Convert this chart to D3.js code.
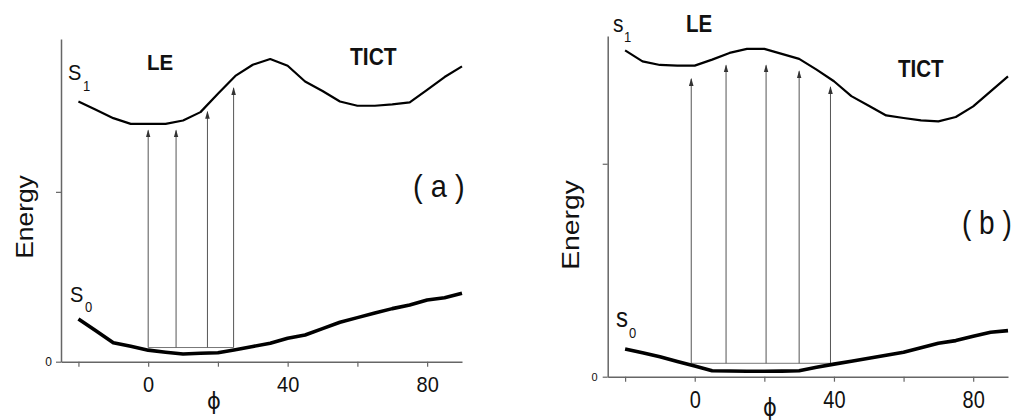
<!DOCTYPE html>
<html>
<head>
<meta charset="utf-8">
<script src="https://cdn.jsdelivr.net/npm/d3@7/dist/d3.min.js"></script>
<style>
  html, body { margin: 0; padding: 0; background: #fff; }
  svg { display: block; font-family: "Liberation Sans", Arial, sans-serif; }
</style>
</head>
<body>
<svg id="chart" width="1016" height="420"></svg>
<script>
// ---- data ----
const phi = [-20, -15, -10, -5, 0, 5, 10, 15, 20, 25, 30, 35, 40, 45, 50, 55, 60, 65, 70, 75, 80, 85, 90];

// panel (a)
const s1A = [3.064, 2.967, 2.868, 2.801, 2.801, 2.801, 2.840, 2.939, 3.154, 3.365, 3.497, 3.564, 3.485, 3.300, 3.188, 3.064, 3.014, 3.014, 3.030, 3.053, 3.201, 3.352, 3.477];
const s0A = [0.503, 0.364, 0.224, 0.181, 0.136, 0.112, 0.091, 0.099, 0.106, 0.141, 0.179, 0.217, 0.276, 0.315, 0.389, 0.464, 0.519, 0.574, 0.625, 0.668, 0.727, 0.754, 0.806];
const arrowPhiA = [0, 8, 17, 24.5];
const arrowTopA = [2.723, 2.723, 2.943, 3.222];
const arrowBaseA = 0.167;

// panel (b)
const s1B = [3.065, 2.962, 2.928, 2.922, 2.922, 2.978, 3.041, 3.079, 3.079, 3.032, 2.985, 2.884, 2.775, 2.635, 2.545, 2.454, 2.430, 2.407, 2.398, 2.439, 2.539, 2.680, 2.821];
const s0B = [0.260, 0.225, 0.188, 0.143, 0.101, 0.056, 0.054, 0.051, 0.051, 0.052, 0.056, 0.088, 0.118, 0.145, 0.174, 0.201, 0.229, 0.271, 0.314, 0.339, 0.380, 0.417, 0.433];
const arrowPhiB = [-1, 9, 20.5, 30, 39];
const arrowTopB = [2.797, 2.924, 2.924, 2.868, 2.721];
const arrowBaseB = 0.126;

// axes
const xDomain = [-25, 90];
const xTickValues = [-20, 0, 20, 40, 60, 80];
const xTickLabels = ["", "0", "", "40", "", "80"];
const yTickValues = [0, 2];
const yTickLabels = ["0", ""];
const yTopA = 3.8;
const yTopB = 3.2;

// ---- drawing ----
const svg = d3.select("#chart");

const defs = svg.append("defs");
defs.append("marker")
  .attr("id", "head")
  .attr("viewBox", "0 -3 8 6")
  .attr("refX", 7).attr("refY", 0)
  .attr("markerWidth", 8).attr("markerHeight", 6)
  .attr("markerUnits", "userSpaceOnUse")
  .attr("orient", "auto")
  .append("path")
  .attr("d", "M0,-2.3L8,0L0,2.3Z")
  .attr("fill", "#333");

function panel(cfg) {
  const k = cfg.stretch;
  const g = svg.append("g");
  const x = d3.scaleLinear().domain(xDomain).range(cfg.xRange);
  const y = d3.scaleLinear().domain([0, cfg.yTop]).range(cfg.yRange);

  const xAxis = d3.axisBottom(x)
    .tickValues(xTickValues)
    .tickFormat((d, i) => xTickLabels[i])
    .tickSize(5).tickSizeOuter(0).tickPadding(10);
  const gx = g.append("g")
    .attr("transform", `translate(0,${cfg.yRange[0]})`)
    .call(xAxis);
  gx.selectAll("text")
    .attr("font-size", 20).attr("fill", "#111")
    .attr("font-family", "'Liberation Sans', Arial, sans-serif")
    .attr("y", 0)
    .attr("transform", `translate(0,15) scale(1,${k})`);

  const yAxis = d3.axisLeft(y)
    .tickValues(yTickValues)
    .tickFormat((d, i) => yTickLabels[i])
    .tickSize(5).tickSizeOuter(0).tickPadding(cfg.yPad);
  const gy = g.append("g")
    .attr("transform", `translate(${cfg.xRange[0]},0)`)
    .call(yAxis);
  gy.selectAll("text").attr("font-size", cfg.yFont).attr("fill", "#111")
    .attr("font-family", "'Liberation Sans', Arial, sans-serif");

  g.selectAll(".domain").attr("stroke", "#666").attr("stroke-width", 1.5);
  g.selectAll(".tick line").attr("stroke", "#666").attr("stroke-width", 1.2);

  // horizontal base line of the excitation arrows
  const ax = cfg.arrowPhi;
  g.append("line")
    .attr("x1", x(d3.min(ax))).attr("x2", x(d3.max(ax)))
    .attr("y1", y(cfg.arrowBase)).attr("y2", y(cfg.arrowBase))
    .attr("stroke", "#777").attr("stroke-width", 1);

  // vertical arrows
  g.selectAll(".arrow")
    .data(ax.map((p, i) => ({ p, top: cfg.arrowTop[i] })))
    .join("line")
    .attr("class", "arrow")
    .attr("x1", d => x(d.p)).attr("x2", d => x(d.p))
    .attr("y1", y(cfg.arrowBase)).attr("y2", d => y(d.top))
    .attr("stroke", "#555").attr("stroke-width", 1)
    .attr("marker-end", "url(#head)");

  const line = d3.line().x((d, i) => x(phi[i])).y(d => y(d)).curve(d3.curveLinear);

  g.append("path").datum(cfg.s1)
    .attr("d", line).attr("fill", "none")
    .attr("stroke", "#000").attr("stroke-width", 2.2)
    .attr("stroke-linejoin", "round");
  g.append("path").datum(cfg.s0)
    .attr("d", line).attr("fill", "none")
    .attr("stroke", "#000").attr("stroke-width", 3.6)
    .attr("stroke-linejoin", "round");

  // phi axis title
  g.append("text")
    .attr("transform", `translate(${cfg.phiX},${cfg.phiY}) scale(1,${k})`)
    .attr("text-anchor", "middle")
    .attr("font-family", "'DejaVu Sans', sans-serif")
    .attr("font-size", 21).attr("fill", "#111")
    .text("ϕ");

  // Energy title
  g.append("text")
    .attr("transform", `translate(${cfg.energyX},${cfg.energyY}) scale(1,${k}) rotate(-90)`)
    .attr("text-anchor", "middle")
    .attr("font-size", 24).attr("fill", "#111")
    .text("Energy");

  // state labels and annotations
  const lab = (t, px, py, fs, weight) => g.append("text")
    .attr("transform", `translate(${px},${py}) scale(1,${k})`)
    .attr("font-size", fs)
    .attr("font-weight", weight || "normal").attr("fill", "#111").text(t);

  cfg.labels.forEach(l => lab(l[0], l[1], l[2], l[3], l[4]));
}

panel({
  xRange: [61, 462], yRange: [361.7, 39], yTop: yTopA,
  yPad: 4, yFont: 12, stretch: 1.1,
  s1: s1A, s0: s0A,
  arrowPhi: arrowPhiA, arrowTop: arrowTopA, arrowBase: arrowBaseA,
  phiX: 214, phiY: 409,
  energyX: 33, energyY: 217,
  labels: [
    ["S", 68, 80, 20], ["1", 83, 91, 13],
    ["S", 70, 302, 20], ["0", 85, 312, 13],
    ["LE", 147, 70, 20.5, "bold"], ["TICT", 350, 65, 21, "bold"],
    ["( a )", 413, 197, 29]
  ]
});

panel({
  xRange: [607.7, 1008], yRange: [376.7, 36], yTop: yTopB,
  yPad: 5, yFont: 11, stretch: 1.18,
  s1: s1B, s0: s0B,
  arrowPhi: arrowPhiB, arrowTop: arrowTopB, arrowBase: arrowBaseB,
  phiX: 770, phiY: 416,
  energyX: 579, energyY: 225,
  labels: [
    ["s", 613, 32, 21], ["1", 624, 42, 13],
    ["s", 616, 327, 24], ["0", 629, 338, 13],
    ["LE", 686, 32, 20.5, "bold"], ["TICT", 898, 77, 20.5, "bold"],
    ["( b )", 962, 234, 28]
  ]
});
</script>
</body>
</html>
